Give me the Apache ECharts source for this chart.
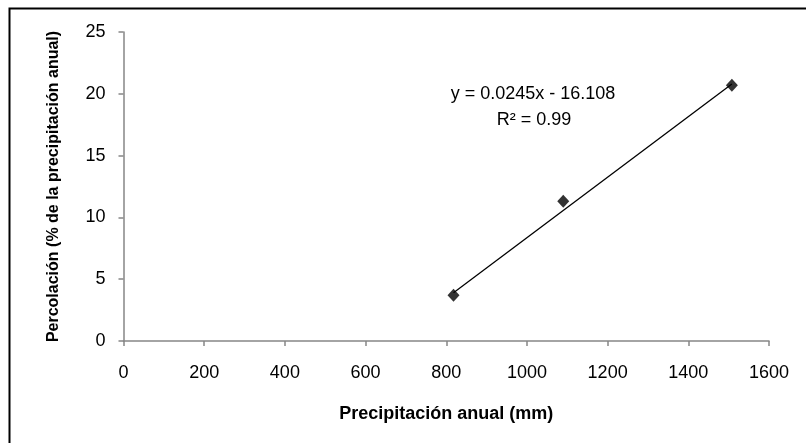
<!DOCTYPE html>
<html>
<head>
<meta charset="utf-8">
<script src="https://cdn.jsdelivr.net/npm/echarts@6/dist/echarts.min.js"></script>
<style>
  html, body { margin: 0; padding: 0; background: #fff; }
  #chart { width: 806px; height: 443px; }
</style>
</head>
<body>
<div id="chart"></div>
<script>
// datos
const precip = [818, 1090, 1508]
const percol = [3.7, 11.3, 20.7]
// linea de tendencia (extremos)
const trendX = [818, 1508]
const trendY = [3.9, 20.8]
const eqText = 'y = 0.0245x - 16.108'
const r2Text = 'R² = 0.99'

const font = 'Liberation Sans, Arial, sans-serif'
const axisGray = '#868686'

const chart = echarts.init(document.getElementById('chart'))
const option = {
  animation: false,
  grid: {
    left: 123.5,
    right: 37,
    top: 32,
    bottom: 102
  },
  xAxis: {
    type: 'value',
    min: 0,
    max: 1600,
    interval: 200,
    name: 'Precipitación anual (mm)',
    nameLocation: 'middle',
    nameGap: 64,
    nameTextStyle: { fontFamily: font, fontSize: 18, fontWeight: 'bold', color: '#000' },
    axisLine: { show: true, lineStyle: { color: axisGray, width: 1.5 } },
    axisTick: { show: true, inside: false, length: 5, lineStyle: { color: axisGray, width: 1.5 } },
    axisLabel: { fontFamily: font, fontSize: 18, color: '#000', margin: 23, formatter: v => String(v) },
    splitLine: { show: false }
  },
  yAxis: {
    type: 'value',
    min: 0,
    max: 25,
    interval: 5,
    name: 'Percolación (% de la precipitación anual)',
    nameLocation: 'middle',
    nameGap: 62,
    nameTextStyle: { fontFamily: font, fontSize: 16, fontWeight: 'bold', color: '#000' },
    axisLine: { show: true, lineStyle: { color: axisGray, width: 1.5 } },
    axisTick: { show: true, inside: false, length: 5, lineStyle: { color: axisGray, width: 1.5 } },
    axisLabel: { fontFamily: font, fontSize: 18, color: '#000', margin: 18 },
    splitLine: { show: false }
  },
  graphic: [
    {
      type: 'rect',
      shape: { x: 9.5, y: 8.5, width: 820, height: 460 },
      style: { fill: 'none', stroke: '#000', lineWidth: 2 },
      silent: true,
      z: -1
    },
    {
      type: 'text',
      x: 533,
      y: 94,
      style: { text: eqText, font: '18px ' + font, fill: '#000', align: 'center', verticalAlign: 'middle' }
    },
    {
      type: 'text',
      x: 534,
      y: 120,
      style: { text: r2Text, font: '18px ' + font, fill: '#000', align: 'center', verticalAlign: 'middle' }
    }
  ],
  series: [
    {
      name: 'tendencia',
      type: 'line',
      data: trendX.map((x, i) => [x, trendY[i]]),
      symbol: 'none',
      lineStyle: { color: '#000', width: 1.3 },
      z: 1
    },
    {
      name: 'percolacion',
      type: 'scatter',
      data: precip.map((x, i) => [x, percol[i]]),
      symbol: 'diamond',
      symbolSize: [12, 13],
      itemStyle: { color: '#000' },
      z: 2
    }
  ]
}
chart.setOption(option)
</script>
</body>
</html>
